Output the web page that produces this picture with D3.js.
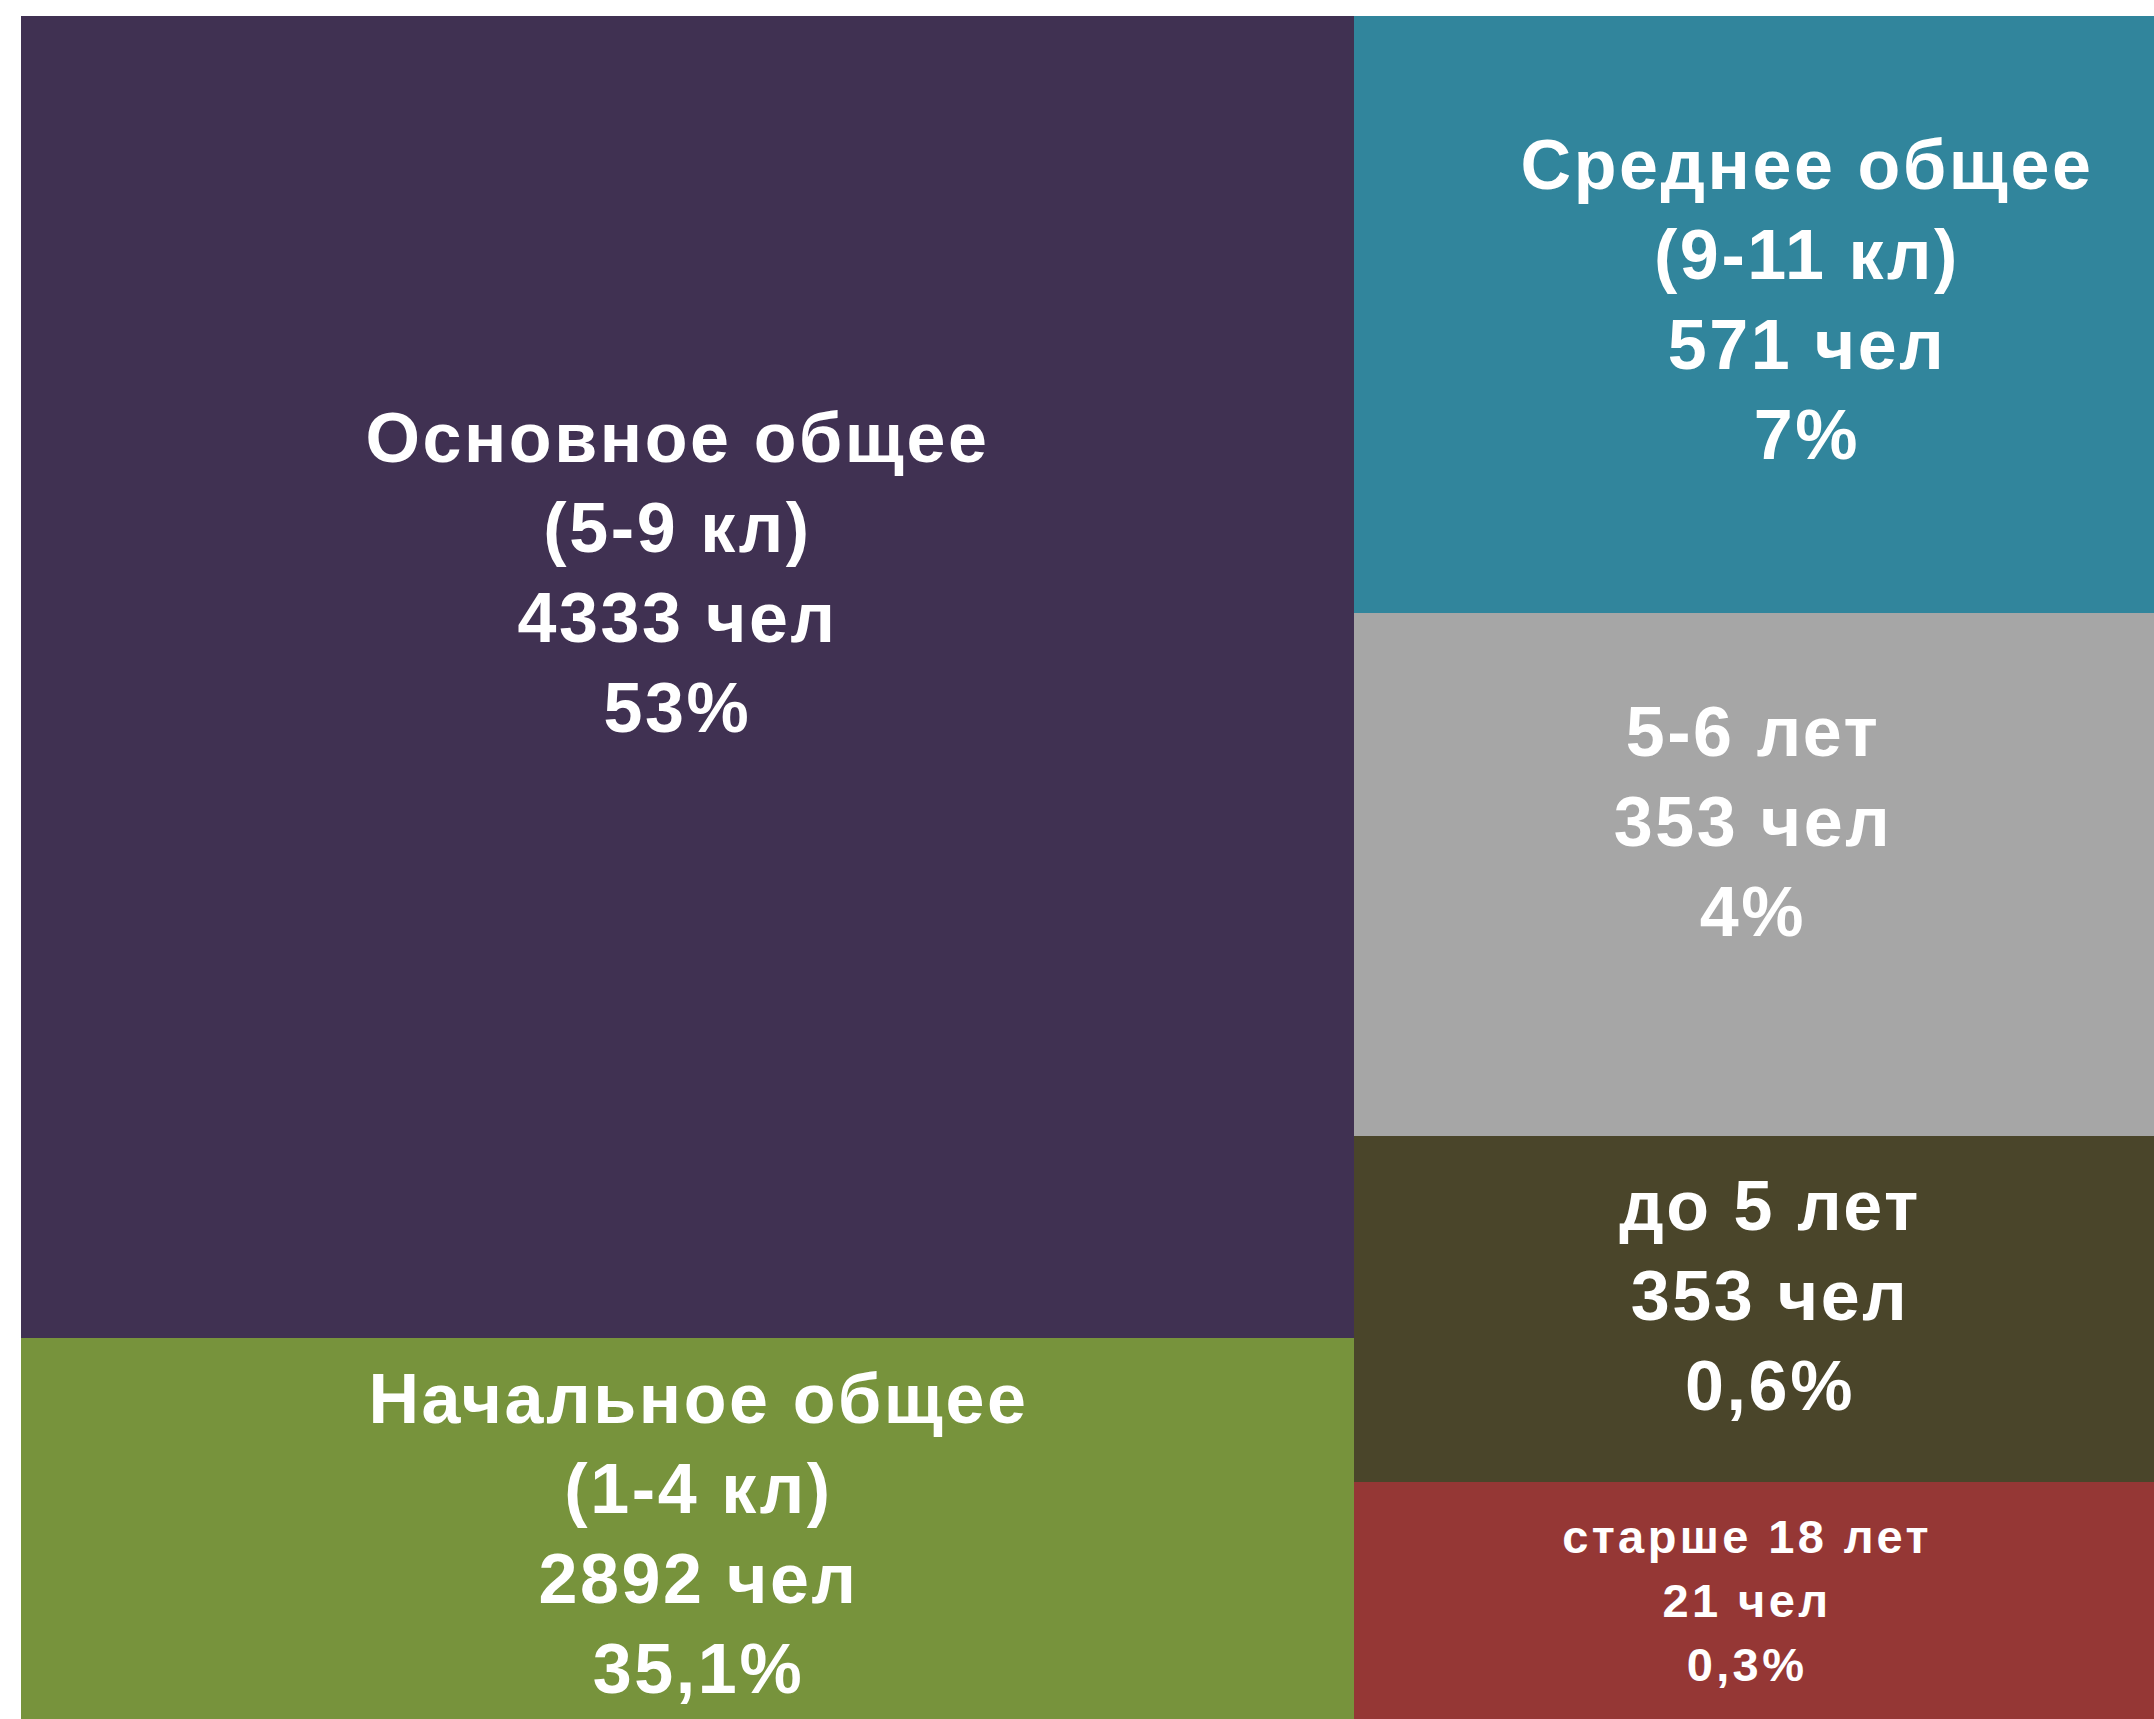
<!DOCTYPE html>
<html>
<head>
<meta charset="utf-8">
<script src="https://cdn.jsdelivr.net/npm/d3@7"></script>
<style>
  html, body { margin: 0; padding: 0; background: #fff; }
</style>
</head>
<body>
<div id="chart"></div>
<script>
const width = 2154
const height = 1719
const marginLeft = 21
const marginTop = 16

// data
const groups = ['left', 'right']
const names = ['Основное общее', 'Начальное общее', 'Среднее общее', '5-6 лет', 'до 5 лет', 'старше 18 лет']
const subtitles = ['(5-9 кл)', '(1-4 кл)', '(9-11 кл)', '', '', '']
const counts = [4333, 2892, 571, 353, 353, 21]
const shares = ['53%', '35,1%', '7%', '4%', '0,6%', '0,3%']
const groupOf = ['left', 'left', 'right', 'right', 'right', 'right']
// tile areas as drawn in the source (not proportional to counts)
const tileWeight = [1762, 508, 478, 418, 277, 190]

// styles
const colors = ['#403152', '#77933C', '#31859C', '#A6A6A6', '#4A452A', '#953735']
const fontSizes = [70, 70, 70, 70, 70, 47]
const lineHeights = [90, 90, 90, 90, 90, 64]
const spacing = [2.6, 2.6, 2.6, 2.6, 2.6, 3.4]
const labelShift = [[-10, -105], [11, 4], [53, -16], [-1, -54], [16, -14], [-7, 0]]

const items = names.map((n, i) => ({
  i, name: n, sub: subtitles[i], count: counts[i], share: shares[i],
  group: groupOf[i], weight: tileWeight[i]
}))

const tree = {
  children: groups.map(g => ({ name: g, children: items.filter(d => d.group === g) }))
}

const root = d3.hierarchy(tree).sum(d => d.weight || 0)

d3.treemap()
  .tile(d3.treemapSliceDice)
  .size([width - marginLeft, height - marginTop])
  .round(true)(root)

const svg = d3.create('svg')
  .attr('width', width)
  .attr('height', height)
  .attr('viewBox', [0, 0, width, height])
  .attr('font-family', '"Liberation Sans", Arial, sans-serif')
  .attr('font-weight', 'bold')
  .attr('text-anchor', 'middle')

document.getElementById('chart').appendChild(svg.node())

const g = svg.append('g')
  .attr('transform', `translate(${marginLeft},${marginTop})`)

const leaf = g.selectAll('g')
  .data(root.leaves())
  .join('g')

leaf.append('rect')
  .attr('x', d => d.x0)
  .attr('y', d => d.y0)
  .attr('width', d => d.x1 - d.x0)
  .attr('height', d => d.y1 - d.y0)
  .attr('fill', d => colors[d.data.i])

leaf.append('text')
  .attr('fill', '#fff')
  .attr('font-size', d => fontSizes[d.data.i])
  .attr('letter-spacing', d => spacing[d.data.i])
  .each(function (d) {
    const i = d.data.i
    const lines = [d.data.name, d.data.sub, `${d.data.count} чел`, d.data.share].filter(s => s)
    const lh = lineHeights[i]
    const cx = (d.x0 + d.x1) / 2 + labelShift[i][0]
    const cy = (d.y0 + d.y1) / 2 + labelShift[i][1]
    const cap = fontSizes[i] * 0.716
    // first baseline so that the block (cap top to last baseline) sits on cy
    const blockH = cap + lh * (lines.length - 1)
    const y0 = cy - blockH / 2 + cap
    d3.select(this).selectAll('tspan')
      .data(lines)
      .join('tspan')
        .attr('x', cx)
        .attr('y', (s, k) => y0 + k * lh)
        .text(s => s)
  })
</script>
</body>
</html>
